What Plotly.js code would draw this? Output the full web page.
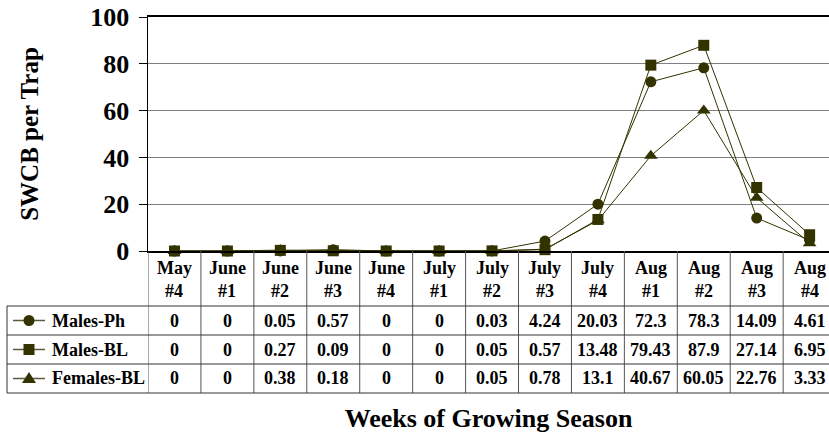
<!DOCTYPE html>
<html>
<head>
<meta charset="utf-8">
<script src="https://cdn.plot.ly/plotly-3.0.1.min.js"></script>
<style>html,body{margin:0;padding:0;background:#fff;overflow:hidden}</style>
</head>
<body>
<div id="chart" style="width:829px;height:437px"></div>
<script>
// ---- data ----
var months = ["May","June","June","June","June","July","July","July","July","Aug","Aug","Aug","Aug"];
var weeks  = ["#4","#1","#2","#3","#4","#1","#2","#3","#4","#1","#2","#3","#4"];
var seriesNames = ["Males-Ph","Males-BL","Females-BL"];
var malesPh   = [0,0,0.05,0.57,0,0,0.03,4.24,20.03,72.3,78.3,14.09,4.61];
var malesBL   = [0,0,0.27,0.09,0,0,0.05,0.57,13.48,79.43,87.9,27.14,6.95];
var femalesBL = [0,0,0.38,0.18,0,0,0.05,0.78,13.1,40.67,60.05,22.76,3.33];
var yTicks = [0,20,40,60,80,100];

// ---- layout geometry (pixels) ----
var W = 829, H = 437;
var L = 148, T = 17, B = 251;        // plot area edges
var PW = W - L, PH = B - T;
function px(x){ return (x - L) / PW; }
function py(y){ return (B - y) / PH; }

var COLOR = "#333300";
var FONT = "'Liberation Serif', 'Times New Roman', Times, serif";
var xIdx = months.map(function(_, i){ return i; });
var catW = 52.93;
var xMax = -0.5 + PW / catW;

var seriesData = [malesPh, malesBL, femalesBL];
var symbols = ["circle", "square", "triangle-up"];
var sizes = [11, 11, 12];

// draw order: Females-BL, Males-Ph, Males-BL (squares on top)
var order = [2, 0, 1];
var traces = order.map(function(k){
  return {
    type: "scatter", mode: "lines+markers",
    x: xIdx, y: seriesData[k], name: seriesNames[k],
    line: {color: COLOR, width: 1},
    marker: {symbol: symbols[k], size: sizes[k], color: COLOR},
    cliponaxis: false, showlegend: false, hoverinfo: "skip"
  };
});

// ---- table ----
var headerTop = 251;
var rowLines = [306, 335, 364, 393];
var tableLeft = 7;
var shapes = [];
var annotations = [];

for (var i = 0; i <= months.length; i++) {
  shapes.push({type: "line", xref: "x", yref: "paper",
    x0: i - 0.5, x1: i - 0.5, y0: py(headerTop), y1: py(rowLines[3]),
    line: {color: "#555555", width: 1}});
}
rowLines.forEach(function(y){
  shapes.push({type: "line", xref: "paper", yref: "paper",
    x0: px(tableLeft), x1: 1, y0: py(y), y1: py(y),
    line: {color: "#333333", width: 1}});
});
shapes.push({type: "line", xref: "paper", yref: "paper",
  x0: px(tableLeft), x1: px(tableLeft), y0: py(rowLines[0]), y1: py(rowLines[3]),
  line: {color: "#333333", width: 1}});

months.forEach(function(m, i){
  annotations.push({xref: "x", yref: "paper", x: i, y: py(268), text: m,
    showarrow: false, xanchor: "center", yanchor: "middle",
    font: {family: FONT, size: 18, color: "#000", weight: "bold"}});
  annotations.push({xref: "x", yref: "paper", x: i, y: py(291), text: weeks[i],
    showarrow: false, xanchor: "center", yanchor: "middle",
    font: {family: FONT, size: 18, color: "#000", weight: "bold"}});
});

[0,1,2].forEach(function(r){
  var cy = (rowLines[r] + rowLines[r+1]) / 2;
  seriesData[r].forEach(function(v, i){
    annotations.push({xref: "x", yref: "paper", x: i, y: py(cy), text: String(v),
      showarrow: false, xanchor: "center", yanchor: "middle",
      font: {family: FONT, size: 18, color: "#000", weight: "bold"}});
  });
  annotations.push({xref: "paper", yref: "paper", x: px(50), y: py(cy), text: seriesNames[r],
    showarrow: false, xanchor: "left", yanchor: "middle",
    font: {family: FONT, size: 18, color: "#000", weight: "bold"}});
  // legend key line
  shapes.push({type: "line", xref: "paper", yref: "paper",
    x0: px(13), x1: px(45), y0: py(cy), y1: py(cy),
    line: {color: "#5c5c3d", width: 1.5}});
  var base = {xref: "paper", yref: "paper", xsizemode: "pixel", ysizemode: "pixel",
    xanchor: px(29), yanchor: py(cy), fillcolor: COLOR, line: {width: 0}};
  var s;
  if (r === 0) s = Object.assign({type: "circle", x0: -5.5, x1: 5.5, y0: -5.5, y1: 5.5}, base);
  else if (r === 1) s = Object.assign({type: "rect", x0: -5.5, x1: 5.5, y0: -5.5, y1: 5.5}, base);
  else s = Object.assign({type: "path", path: "M-7,-4.5L7,-4.5L0,6.5Z"}, base);
  shapes.push(s);
});

var layout = {
  width: W, height: H,
  margin: {l: L, r: 0, t: T, b: H - B, pad: 0},
  paper_bgcolor: "#fff", plot_bgcolor: "#fff",
  font: {family: FONT, color: "#000", weight: "bold"},
  showlegend: false,
  xaxis: {
    range: [-0.5, xMax], showgrid: false, zeroline: false,
    showticklabels: false, ticks: "",
    showline: true, linecolor: "#000", linewidth: 2, mirror: true,
    automargin: false,
    title: {text: "Weeks of Growing Season", standoff: 157,
      font: {family: FONT, size: 26, color: "#000", weight: "bold"}}
  },
  yaxis: {
    range: [0, 100], tickvals: yTicks, ticktext: yTicks.map(String),
    showgrid: true, gridcolor: "#808080", gridwidth: 1, zeroline: false,
    showline: true, linecolor: "#000", linewidth: 1.5,
    ticks: "outside", ticklen: 8, tickcolor: "#000", tickwidth: 1,
    ticklabelstandoff: 4,
    tickfont: {family: FONT, size: 26, color: "#000", weight: "bold"},
    automargin: false,
    title: {text: "SWCB per Trap", standoff: 44,
      font: {family: FONT, size: 25, color: "#000", weight: "bold"}}
  },
  shapes: shapes,
  annotations: annotations
};

Plotly.newPlot("chart", traces, layout, {staticPlot: true, displayModeBar: false});
</script>
</body>
</html>
